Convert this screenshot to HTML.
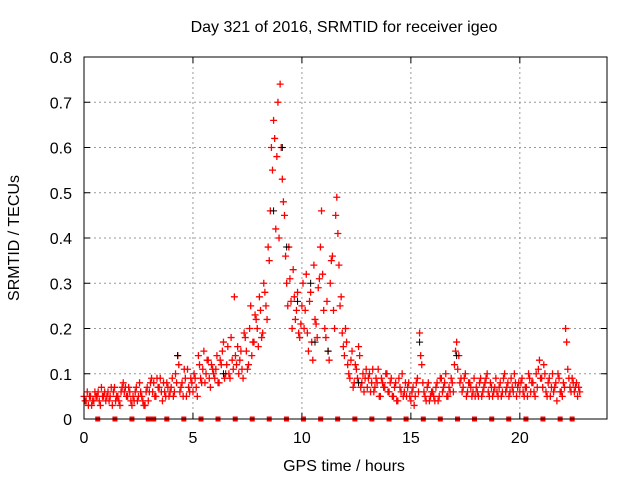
<!DOCTYPE html>
<html><head><meta charset="utf-8"><style>
body{margin:0;background:#fff;}
svg text{font-family:"Liberation Sans",sans-serif;font-size:14px;fill:#000;}
svg text.big{font-size:16px;}
</style></head><body>
<svg id="c" width="640" height="480"></svg>
<script>
const xTicks=[0,5,10,15,20];
const yTicks=[0,0.1,0.2,0.3,0.4,0.5,0.6,0.7,0.8];
const seriesA=[.05,.04,.03,.05,.04,.06,.05,.04,.07,.05,.04,.06,.05,.03,.07,.05,.04,.06,.08,.07,.05,.06,.03,.04,.07,.05,.06,.04,.03,.07,.06,.09,.08,.05,.07,.09,.04,.06,.08,.05,.07,.05,.10,.14,.06,.08,.11,.05,.07,.09,.06,.09,.05,.12,.08,.15,.10,.13,.07,.11,.09,.14,.08,.12,.17,.10,.16,.09,.13,.27,.12,.10,.15,.09,.18,.11,.20,.14,.17,.22,.16,.24,.19,.28,.22,.35,.60,.66,.42,.70,.74,.53,.45,.30,.38,.26,.33,.22,.28,.18,.25,.20,.32,.15,.28,.13,.22,.18,.31,.46,.24,.18,.15,.30,.36,.20,.49,.34,.27,.16,.20,.12,.09,.15,.08,.11,.16,.07,.10,.09,.07,.10,.08,.06,.09,.11,.05,.08,.07,.10,.06,.09,.05,.08,.04,.07,.10,.06,.05,.08,.04,.07,.05,.09,.19,.12,.06,.04,.08,.05,.06,.04,.08,.05,.09,.07,.10,.05,.06,.08,.12,.17,.14,.09,.07,.10,.06,.08,.05,.09,.07,.05,.09,.06,.08,.10,.05,.07,.06,.09,.05,.08,.06,.10,.07,.05,.09,.06,.08,.07,.06,.09,.05,.07,.10,.06,.08,.05,.07,.13,.09,.12,.06,.08,.05,.10,.07,.04,.09,.06,.08,.20,.11,.07,.09,.06,.08,.07];
const seriesB=[.04,.06,.05,.03,.04,.05,.06,.03,.05,.06,.05,.04,.07,.06,.04,.05,.03,.07,.06,.05,.07,.04,.05,.06,.04,.08,.05,.03,.06,.04,.08,.06,.05,.09,.07,.06,.08,.05,.07,.06,.09,.06,.08,.12,.07,.05,.09,.11,.06,.08,.10,.07,.14,.09,.11,.08,.13,.09,.12,.10,.11,.08,.13,.15,.09,.12,.10,.18,.11,.14,.16,.13,.11,.19,.15,.12,.25,.17,.23,.20,.27,.18,.30,.25,.38,.46,.55,.62,.58,.40,.60,.48,.36,.25,.31,.20,.27,.24,.19,.21,.30,.24,.19,.26,.17,.34,.21,.29,.38,.32,.20,.26,.13,.35,.24,.45,.41,.25,.19,.14,.17,.10,.13,.07,.12,.09,.14,.08,.06,.11,.09,.06,.11,.07,.08,.05,.09,.07,.10,.06,.08,.05,.07,.04,.09,.06,.05,.08,.07,.05,.06,.03,.08,.06,.14,.08,.05,.07,.04,.06,.05,.07,.04,.09,.06,.08,.05,.07,.09,.06,.15,.11,.08,.06,.09,.05,.08,.07,.06,.05,.06,.08,.05,.07,.09,.06,.08,.05,.07,.06,.07,.05,.09,.06,.08,.06,.07,.10,.05,.08,.08,.06,.07,.05,.09,.08,.06,.10,.11,.09,.07,.10,.05,.09,.07,.06,.08,.10,.06,.05,.07,.17,.09,.06,.08,.07,.05,.06];
const blackTimes=[4.3,6.4,8.7,9.1,9.3,9.8,10.4,10.6,11.2,12.6,15.4,17.1];
const blackValues=[.14,.10,.46,.60,.38,.26,.30,.17,.15,.08,.17,.14];
const squareTimes=[0.63,1.42,2.2,2.95,3.05,3.2,3.8,4.58,5.37,6.15,6.94,7.72,8.5,9.29,10.07,10.86,11.64,12.43,13.21,14.0,14.78,15.57,16.35,17.14,17.92,18.71,19.49,20.28,21.06,21.85,22.4];
const X0=84,X1=607,Y0=419,Y1=57;
const sx=t=>X0+(X1-X0)*t/24;
const sy=v=>Y0-(Y0-Y1)*v/0.8;
const svg=document.getElementById('c');
const NS='http://www.w3.org/2000/svg';
function mk(tag,attrs,parent){const e=document.createElementNS(NS,tag);for(const k in attrs)e.setAttribute(k,attrs[k]);(parent||svg).appendChild(e);return e;}
function txt(s,x,y,anchor,name,extra){const t=mk('text',Object.assign({x:x,y:y,'text-anchor':anchor},extra||{}));t.textContent=s;return t;}
xTicks.forEach(t=>{if(t>0){const l=mk('line',{x1:sx(t),x2:sx(t),y1:Y0,y2:Y1,stroke:'#999','stroke-dasharray':'2,3'});

}});
yTicks.forEach(v=>{if(v>0&&v<0.8){const l=mk('line',{x1:X0,x2:X1,y1:sy(v),y2:sy(v),stroke:'#999','stroke-dasharray':'2,3'});

}});
xTicks.forEach(t=>{mk('line',{x1:sx(t),x2:sx(t),y1:Y0,y2:Y0-6,stroke:'#000'});mk('line',{x1:sx(t),x2:sx(t),y1:Y1,y2:Y1+6,stroke:'#000'});txt(String(t),sx(t),443,'middle','x-tick-label',{class:'big'});});
yTicks.forEach(v=>{mk('line',{x1:X0,x2:X0+6,y1:sy(v),y2:sy(v),stroke:'#000'});mk('line',{x1:X1,x2:X1-6,y1:sy(v),y2:sy(v),stroke:'#000'});txt(v===0?'0':v.toFixed(1),72,sy(v)+6,'end','y-tick-label',{class:'big'});});
const g=mk('g',{stroke:'#f00','stroke-width':1.3,fill:'none'});


function plus(t,v,par){const x=sx(t),y=sy(v);return mk('path',{d:`M${x-3.5},${y}h7M${x},${y-3.5}v7`},par);}
const gb=mk('g',{stroke:'#000','stroke-width':1});


blackTimes.forEach((t,i)=>plus(t,blackValues[i],gb));
seriesA.forEach((v,i)=>plus(i*0.1,v,g));
seriesB.forEach((v,i)=>plus(i*0.1+0.05,v,g));
const gs=mk('g',{fill:'#f00'});


squareTimes.forEach(t=>mk('rect',{x:sx(t)-2.5,y:Y0-2.5,width:5,height:5},gs));
const f=mk('rect',{x:X0,y:Y1,width:X1-X0,height:Y0-Y1,fill:'none',stroke:'#000'});


txt('Day 321 of 2016, SRMTID for receiver igeo',344,32,'middle','chart-title',{class:'big'});
txt('GPS time / hours',344,471,'middle','x-axis-title',{class:'big'});
txt('SRMTID / TECUs',19,238,'middle','y-axis-title',{class:'big',transform:'rotate(-90 19 238)'});
</script>
</body></html>
